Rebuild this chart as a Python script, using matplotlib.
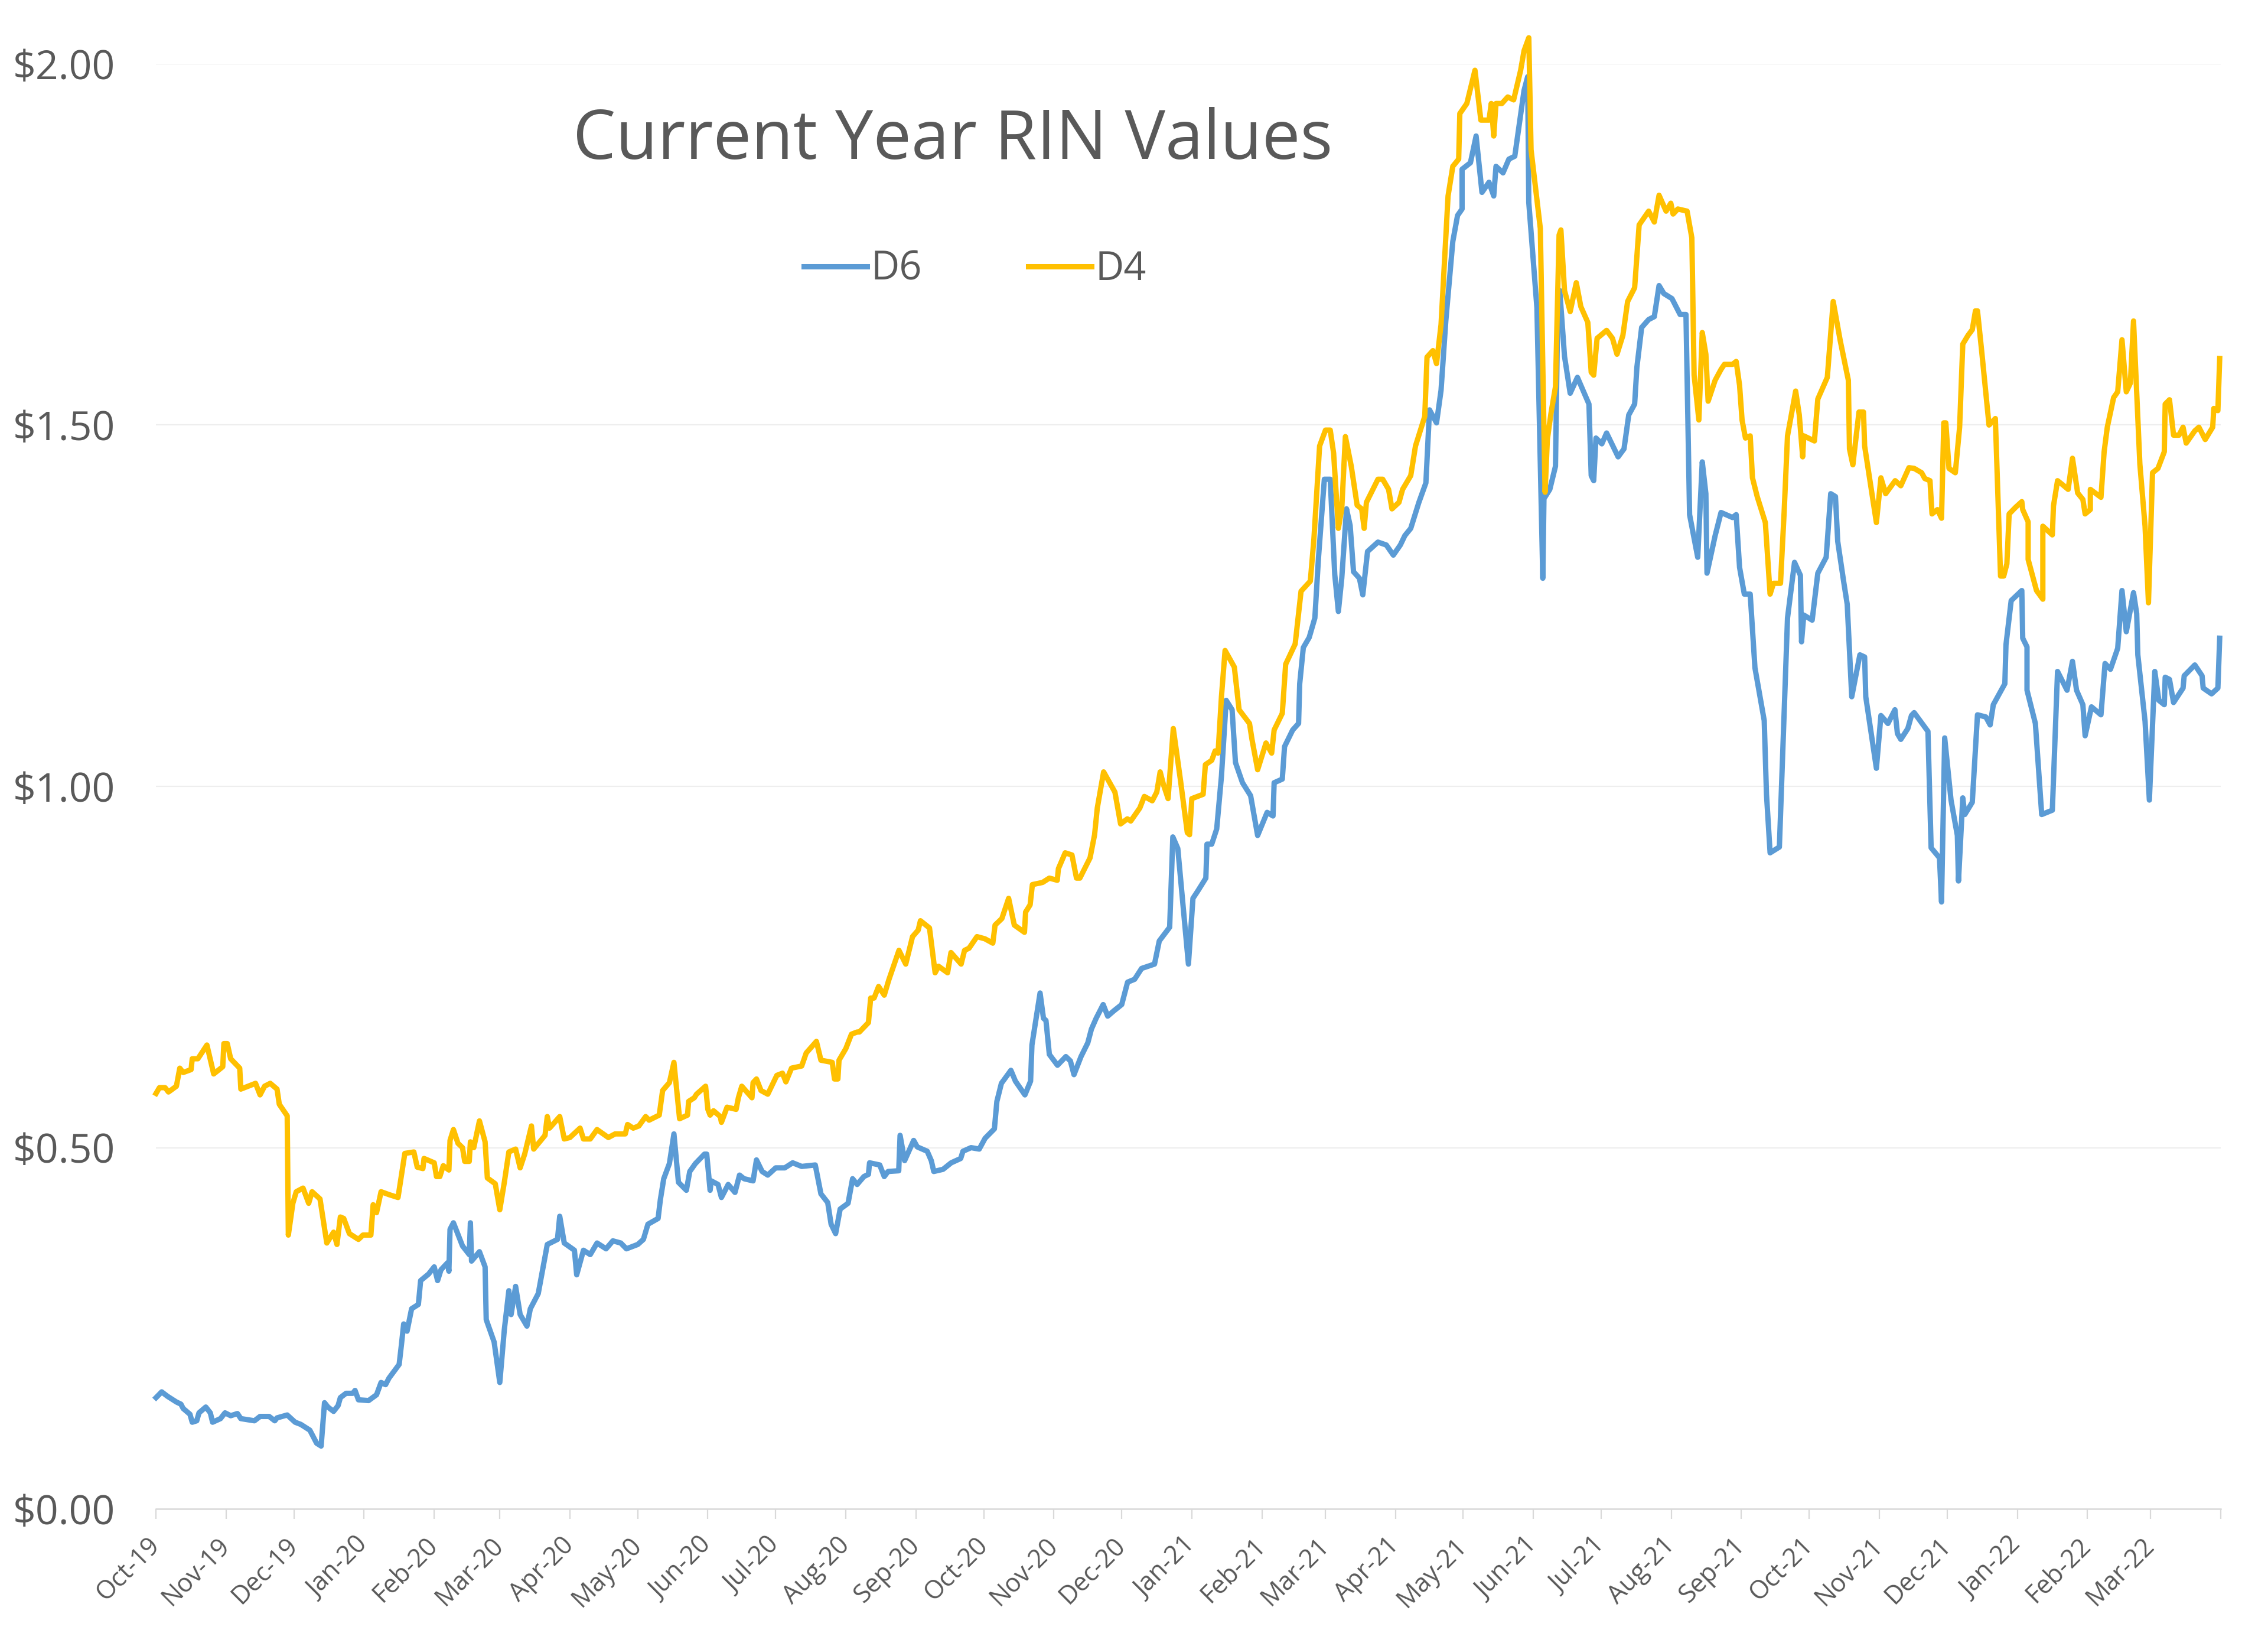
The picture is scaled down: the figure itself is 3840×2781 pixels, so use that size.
import pandas as pd
import matplotlib
matplotlib.use('Agg')
import matplotlib.pyplot as plt
import matplotlib.dates as mdates

# series start date; days below are counted from here
START = '2019-10-01'
AXIS_END = '2022-04-01'

# D6 (days since START, $/RIN)
d6_days = [0, 2.5, 5, 9, 11, 12, 15, 16, 18, 19, 22, 24, 25, 28.5, 30.5, 33, 36, 37.5, 43.5, 46,
           50, 52.5, 53.5, 58, 61.5, 64, 68, 71, 73, 74.5, 76, 78.5, 80.5, 81.5, 84, 87, 88, 89.5, 94, 97.5,
           99.5, 101.5, 103, 107.5, 108.5, 109.5, 111, 113, 116, 117, 120.5, 123, 124.5, 126, 129, 129.5, 130, 131.5, 135.5, 138.5,
           139, 139.5, 143, 145.5, 146, 149.5, 152, 154, 156, 157, 159, 161, 164, 165.5, 169, 173, 177.5, 178.5, 180.5, 185,
           186, 189, 192, 195, 199, 202, 205.5, 208, 213, 215.5, 217.5, 222, 223, 224.5, 227, 229, 231, 234.5, 236, 238.5,
           242.5, 243.5, 245, 245.5, 248.5, 250, 253, 256, 258, 260, 264, 265.5, 268, 270.5, 274, 278, 281.5, 285.5, 291.5, 294,
           297, 298.5, 300.5, 302.5, 306, 308, 310, 313, 315, 315.5, 320, 322, 323.7, 328.4, 329, 331, 335, 336.6, 341, 342.8,
           343.9, 348, 351.6, 355.8, 356.8, 360.4, 364, 366.6, 370.7, 371.8, 373.8, 378, 380, 384.2, 386.7, 387.3, 389.3, 390.9, 392.4, 393.5,
           395, 398.6, 402.3, 404.3, 405.9, 409, 412, 413.6, 415.7, 418.8, 420.8, 423.4, 427, 429.6, 432.7, 435.8, 441.5, 443.6, 448.2, 449.6,
           451.8, 456.5, 458.5, 460.6, 464.2, 464.7, 466.8, 469, 471.1, 473.2, 475.8, 477.3, 480.4, 484, 487.1, 491.3, 493.9, 494.4, 498, 499,
           502.6, 505.2, 505.7, 507.3, 509.9, 512.4, 514, 516.6, 519.2, 521.2, 522.8, 524.3, 526.4, 528, 529.5, 532.1, 533.6, 535.7, 540.3, 544,
           547.1, 550.2, 552.2, 554.8, 558.4, 561.5, 563.1, 566.2, 568.2, 570.3, 573.4, 575.5, 577.5, 577.5, 581.2, 583.7, 586.3, 589.4, 591.5, 592.5,
           595.6, 598.2, 600.8, 604.9, 606.5, 607, 610.6, 613.2, 613.7, 616.3, 618.8, 619.9, 620.7, 622.8, 625.3, 628.5, 633.6, 634.6, 635.7, 636.7,
           639.3, 641.4, 646.5, 649.1, 651.2, 653.8, 654.8, 656.9, 660, 662.5, 664.6, 666.7, 670.3, 673.9, 676.5, 678.1, 681.7, 683.7, 685.3, 685.8,
           689.4, 692, 697.1, 698.7, 700.2, 702.3, 704.9, 707, 711.1, 712.1, 713.7, 717.8, 721.4, 724.5, 727.1, 727.6, 728.6, 732.3, 734.8, 738.5,
           740.5, 742.6, 743.6, 746.2, 747.8, 749.8, 753.4, 755.5, 756, 760.7, 762.7, 765.8, 768.9, 770, 771.5, 774.6, 776.2, 777.4, 783.5, 784.9,
           788.6, 789.5, 790.9, 793.7, 796.5, 797, 798.9, 799.8, 803.1, 805.4, 809.1, 811, 812.4, 817.5, 818, 820.3, 825, 825.4, 827.3, 827.3,
           831, 833.8, 838.5, 840.8, 845, 847.4, 849.2, 852, 853, 855.8, 860, 861.8, 864.2, 867.4, 869.3, 871.2, 874.4, 875.8, 876.3, 879.5,
           881.4, 883.8, 885.6, 888, 888.4, 890.3, 892.1, 896.3, 896.8, 901.5, 904.7, 905.2, 908.9, 911.7, 912.5]
d6_vals = [.154, .162, .156, .148, .145, .139, .131, .120, .122, .133, .141, .133, .120, .125, .133, .129, .132, .125, .122, .128,
           .128, .122, .126, .130, .120, .117, .109, .091, .087, .147, .141, .135, .143, .154, .160, .160, .164, .151, .150, .158,
           .175, .172, .181, .200, .227, .256, .246, .277, .283, .316, .325, .335, .316, .331, .341, .329, .387, .396, .364, .352,
           .396, .343, .356, .335, .262, .231, .175, .248, .302, .269, .308, .269, .253, .277, .298, .366, .373, .405, .368, .358,
           .324, .358, .352, .368, .360, .371, .368, .360, .366, .373, .394, .402, .428, .457, .478, .519, .452, .441, .467, .478,
           .491, .491, .441, .454, .449, .431, .449, .438, .462, .457, .454, .483, .467, .462, .472, .472, .479, .474, .476, .436,
           .424, .394, .381, .415, .423, .457, .449, .460, .463, .479, .476, .460, .467, .468, .517, .482, .510, .501, .495, .482,
           .467, .470, .479, .485, .495, .500, .498, .513, .526, .564, .589, .607, .592, .573, .592, .642, .682, .714, .679, .676,
           .629, .614, .626, .620, .601, .626, .645, .664, .679, .698, .682, .689, .698, .729, .733, .748, .754, .786, .805, .930,
           .914, .754, .845, .855, .873, .920, .920, .941, 1.014, 1.119, 1.106, 1.033, 1.005, .987, .932, .964, .959, 1.005, 1.010, 1.055,
           1.078, 1.087, 1.142, 1.192, 1.206, 1.233, 1.316, 1.425, 1.425, 1.293, 1.242, 1.288, 1.384, 1.361, 1.297, 1.288, 1.265, 1.325, 1.338, 1.334,
           1.320, 1.334, 1.347, 1.357, 1.393, 1.420, 1.521, 1.503, 1.548, 1.644, 1.754, 1.790, 1.799, 1.854, 1.863, 1.900, 1.822, 1.836, 1.817, 1.858,
           1.849, 1.868, 1.872, 1.963, 1.982, 1.808, 1.662, 1.288, 1.398, 1.411, 1.443, 1.681, 1.686, 1.595, 1.544, 1.566, 1.529, 1.430, 1.423, 1.482,
           1.474, 1.489, 1.456, 1.467, 1.514, 1.529, 1.580, 1.635, 1.646, 1.650, 1.693, 1.682, 1.675, 1.653, 1.653, 1.376, 1.317, 1.449, 1.405, 1.295,
           1.347, 1.379, 1.372, 1.376, 1.303, 1.266, 1.266, 1.164, 1.091, .989, .908, .916, 1.233, 1.310, 1.292, 1.200, 1.237, 1.230, 1.295, 1.317,
           1.405, 1.401, 1.339, 1.284, 1.252, 1.124, 1.182, 1.179, 1.124, 1.025, 1.098, 1.087, 1.106, 1.073, 1.065, 1.080, 1.098, 1.102, 1.076, .915,
           .901, .840, 1.067, .981, .932, .869, .984, .961, .978, 1.099, 1.096, 1.085, 1.113, 1.142, 1.196, 1.257, 1.271, 1.205, 1.193, 1.133,
           1.087, .961, .967, 1.159, 1.133, 1.173, 1.133, 1.113, 1.070, 1.110, 1.099, 1.170, 1.162, 1.191, 1.271, 1.214, 1.268, 1.239, 1.182, 1.090,
           .981, 1.159, 1.119, 1.113, 1.151, 1.148, 1.116, 1.136, 1.153, 1.168, 1.153, 1.136, 1.128, 1.136, 1.205]

# D4 (days since START, $/RIN)
d4_days = [0, 1.5, 4, 5.5, 9, 10.5, 12, 15.5, 16, 18.5, 22.5, 25.5, 29.5, 30, 31.5, 33, 37, 37.5, 44, 46,
           48, 50.5, 53.5, 54.5, 58, 58.5, 60.5, 62, 65, 67.5, 69, 72.5, 75.5, 78.5, 80, 81.5, 83, 85.5, 89.5, 91.5,
           95, 96, 97.5, 99.5, 103, 107, 110, 114, 115.5, 118, 118.5, 123, 124, 125.5, 127, 129.5, 130, 131.5, 133.5, 135.5,
           136.5, 138.5, 139, 140.5, 143, 145.5, 146.5, 150, 152, 154, 156, 159, 161, 163, 166, 167, 172, 173, 174, 178.5,
           180.5, 183, 187.5, 189, 192, 195, 200, 203, 207.5, 208.5, 211, 213.5, 216.5, 218, 222.5, 224, 227, 229, 231.5, 235,
           235.5, 238, 239, 243, 244, 245, 246.5, 249.5, 250, 252.5, 256.5, 257.5, 259, 263.5, 264, 265.5, 267.5, 270.5, 274.5, 277,
           278.5, 281, 285.5, 287.5, 292, 294, 299, 300, 301.5, 302, 305, 307.5, 310, 311, 315, 316, 317.5, 319.5, 322, 324,
           328.5, 331.5, 334.5, 337, 338, 342, 344.5, 346, 350, 351.5, 356, 357.5, 359.5, 363, 366.5, 370, 371, 374, 377, 379.5,
           384, 384.5, 386.5, 387.5, 392, 395, 398.5, 399, 402, 405, 407, 408.5, 413, 415, 416.2, 419, 424, 426.5, 429.5, 431,
           435, 437, 440.5, 442.5, 444, 445.5, 447.5, 449.8, 453, 456, 457, 458, 463, 464, 466.8, 468.3, 469.6, 471.1, 472.7, 476.8,
           478.9, 483.5, 484.6, 487.1, 490.8, 493.3, 494.4, 498, 499.5, 503.7, 506.3, 510.4, 512, 514.5, 517.1, 519.2, 520.7, 522.8, 524.3, 525.9,
           528.5, 531.1, 533.1, 534.2, 535.2, 540.3, 542.4, 545, 546.5, 549.6, 551.2, 554.8, 556.9, 561, 562, 564.6, 566.2, 568.2, 571.3, 573.4,
           576, 576.5, 579.6, 583.2, 585.8, 589.4, 590.4, 591.5, 592.5, 595.1, 597.7, 600.3, 603.4, 604.9, 607, 608, 612.1, 614.2, 615.2, 616.8,
           618.8, 620.4, 621.2, 622.8, 625.3, 628, 630, 633.1, 634.6, 635.7, 637.2, 641.4, 644, 646, 648.6, 650.7, 653.8, 655.8, 660, 662.5,
           664.6, 667.7, 669.8, 670.8, 672.9, 677, 679.1, 680.1, 682.2, 683.7, 685.3, 686.3, 689.4, 692, 693.5, 697.1, 698.7, 700.2, 701.3, 702.8,
           704.9, 705.9, 708, 711.6, 713.7, 715.2, 718.3, 719.9, 721.4, 725, 726.6, 728.1, 728.6, 733.3, 734.8, 739, 741.6, 744.7, 748.3, 748.8,
           750.3, 753, 755, 755.5, 759.1, 760.7, 762.7, 764.8, 769, 771.5, 775.1, 777.4, 780.7, 782.1, 784.4, 785.3, 787.7, 789.5, 790.5, 791.4,
           792.8, 795.6, 797.5, 798.9, 801.2, 803.1, 804.5, 805.4, 807.3, 810.5, 813.3, 815.6, 817, 818.4, 819.4, 822.2, 825, 825.4, 827.8, 827.8,
           831.5, 834.3, 834.3, 838.5, 839, 840.8, 843.2, 845.5, 847.4, 849.7, 852, 853, 855.3, 855.3, 860, 861.4, 862.8, 865.6, 867.4, 869.3,
           871.2, 873, 874.4, 877.2, 879.5, 881, 882.8, 885.2, 888, 888.4, 890.3, 892.1, 894.5, 896.3, 897.7, 901.5, 903.3, 906.1, 909.4, 909.9,
           911.7, 912.5]
d4_vals = [.575, .583, .583, .577, .585, .610, .604, .608, .623, .623, .642, .602, .612, .644, .644, .623, .610, .581, .589, .573,
           .585, .589, .581, .560, .544, .379, .423, .439, .444, .423, .439, .429, .368, .383, .366, .404, .402, .381, .373, .379,
           .379, .421, .410, .439, .435, .431, .492, .494, .473, .471, .485, .479, .460, .460, .475, .469, .510, .525, .506, .500,
           .481, .481, .508, .500, .537, .508, .458, .450, .414, .452, .494, .498, .472, .491, .530, .498, .517, .543, .527, .543,
           .512, .514, .527, .512, .512, .525, .514, .519, .519, .532, .527, .530, .543, .538, .545, .579, .590, .618, .540, .545,
           .564, .569, .574, .585, .553, .545, .551, .543, .535, .556, .553, .569, .585, .569, .590, .595, .579, .574, .600, .603,
           .591, .610, .613, .631, .647, .621, .618, .595, .595, .621, .637, .657, .660, .660, .673, .707, .707, .723, .711, .732,
           .773, .754, .792, .801, .814, .804, .742, .751, .742, .770, .754, .773, .776, .792, .789, .783, .808, .817, .845, .808,
           .798, .826, .836, .864, .867, .873, .870, .886, .908, .905, .873, .873, .901, .933, .970, 1.020, .992, .948, .955, .952,
           .970, .986, .980, .992, 1.020, 1.002, .983, 1.080, 1.008, .936, .933, .983, .989, 1.030, 1.036, 1.049, 1.046, 1.124, 1.188, 1.165,
           1.106, 1.087, 1.065, 1.023, 1.060, 1.046, 1.078, 1.101, 1.169, 1.197, 1.270, 1.284, 1.343, 1.471, 1.493, 1.493, 1.461, 1.357, 1.384, 1.484,
           1.443, 1.389, 1.384, 1.357, 1.393, 1.425, 1.425, 1.411, 1.384, 1.393, 1.411, 1.430, 1.471, 1.512, 1.594, 1.603, 1.585, 1.639, 1.817, 1.858,
           1.868, 1.931, 1.945, 1.991, 1.922, 1.922, 1.945, 1.900, 1.945, 1.945, 1.954, 1.950, 1.991, 2.018, 2.036, 1.881, 1.772, 1.407, 1.480, 1.516,
           1.553, 1.763, 1.770, 1.686, 1.657, 1.697, 1.664, 1.642, 1.573, 1.569, 1.620, 1.631, 1.620, 1.598, 1.624, 1.671, 1.690, 1.777, 1.796, 1.781,
           1.818, 1.796, 1.807, 1.792, 1.799, 1.796, 1.759, 1.569, 1.507, 1.628, 1.598, 1.533, 1.562, 1.577, 1.584, 1.584, 1.588, 1.555, 1.507, 1.482,
           1.485, 1.427, 1.401, 1.365, 1.266, 1.281, 1.281, 1.379, 1.485, 1.547, 1.514, 1.456, 1.485, 1.478, 1.536, 1.566, 1.671, 1.617, 1.562, 1.467,
           1.445, 1.518, 1.518, 1.471, 1.398, 1.365, 1.427, 1.405, 1.423, 1.416, 1.441, 1.440, 1.434, 1.426, 1.423, 1.377, 1.383, 1.371, 1.503, 1.503,
           1.440, 1.434, 1.497, 1.612, 1.624, 1.632, 1.658, 1.658, 1.601, 1.500, 1.509, 1.291, 1.291, 1.308, 1.377, 1.386, 1.394, 1.383, 1.366, 1.314,
           1.271, 1.259, 1.360, 1.348, 1.388, 1.423, 1.417, 1.411, 1.454, 1.406, 1.397, 1.377, 1.383, 1.411, 1.400, 1.463, 1.497, 1.538, 1.546, 1.618,
           1.546, 1.558, 1.644, 1.446, 1.360, 1.254, 1.434, 1.440, 1.463, 1.529, 1.535, 1.486, 1.486, 1.497, 1.475, 1.492, 1.497, 1.480, 1.497, 1.523,
           1.520, 1.592]

BLUE = '#5B9BD5'
GOLD = '#FFC000'
TEXT = '#595959'

plt.rcParams['font.family'] = ['Open Sans', 'DejaVu Sans']

start = pd.Timestamp(START)
d6_dates = start + pd.to_timedelta(d6_days, unit='D')
d4_dates = start + pd.to_timedelta(d4_days, unit='D')

fig = plt.figure(figsize=(38.4, 27.81), dpi=100)
ax = fig.add_axes([0.0688, 0.0816, 0.9104, 0.8796])

ax.plot(d6_dates, d6_vals, color=BLUE, lw=6.5, label='D6', clip_on=False, solid_joinstyle='round')
ax.plot(d4_dates, d4_vals, color=GOLD, lw=6.5, label='D4', clip_on=False, solid_joinstyle='round')

ax.set_ylim(0, 2)
ax.set_yticks([0, 0.5, 1.0, 1.5, 2.0])
ax.set_yticklabels(['$%.2f' % v for v in [0, 0.5, 1.0, 1.5, 2.0]])
ax.grid(axis='y', color='#EEEEEE', lw=1.6)
ax.set_axisbelow(True)

ax.set_xlim(pd.Timestamp(START), pd.Timestamp(AXIS_END))
months = pd.date_range(START, AXIS_END, freq='MS')
ax.set_xticks(months)
ax.set_xticklabels([m.strftime('%b-%y') for m in months[:-1]] + [''])

for s in ['top', 'right', 'left']:
    ax.spines[s].set_visible(False)
ax.spines['bottom'].set_color('#D9D9D9')
ax.spines['bottom'].set_linewidth(1.8)

ax.tick_params(axis='y', length=0, pad=50, labelsize=49, labelcolor=TEXT)
ax.tick_params(axis='x', length=12, width=1.6, color='#D9D9D9', direction='out',
               pad=28, labelsize=31, labelcolor=TEXT)
for lbl in ax.get_xticklabels():
    lbl.set_rotation(45)
    lbl.set_ha('right')
    lbl.set_va('center')
    lbl.set_rotation_mode('anchor')

fig.text(0.420, 0.914, 'Current Year RIN Values', fontsize=83, color=TEXT,
         ha='center', va='center')

fig.legend(loc='center', bbox_to_anchor=(0.430, 0.836), ncol=2, frameon=False,
           fontsize=48, labelcolor=TEXT, handlelength=1.6, handletextpad=0.1,
           columnspacing=2.7)

fig.savefig('out.png', dpi=100)
